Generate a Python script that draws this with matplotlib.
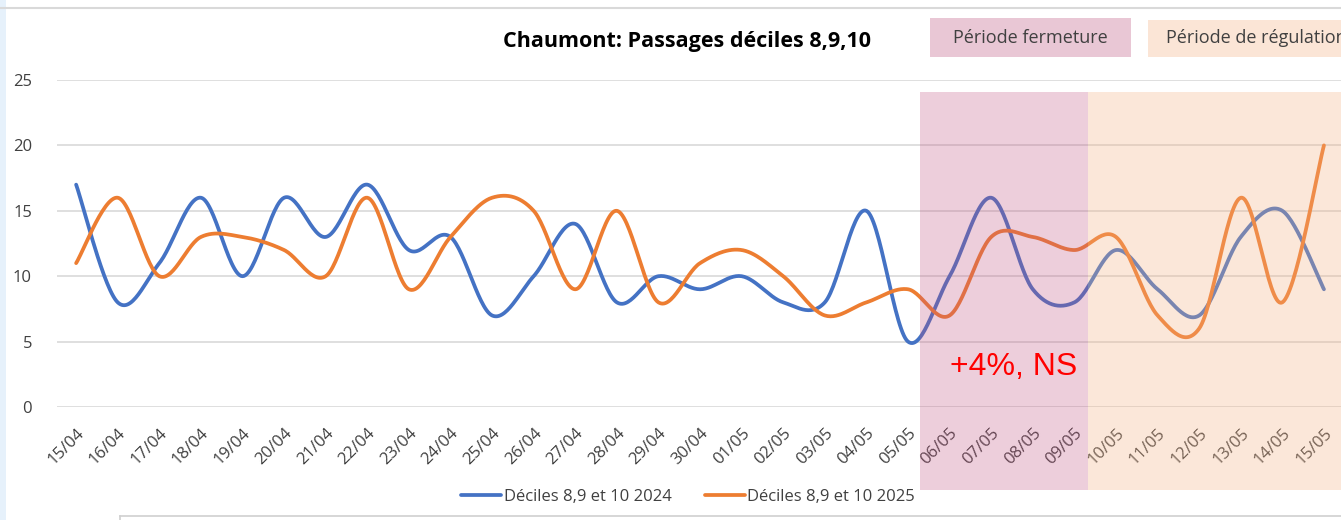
import numpy as np
import matplotlib.pyplot as plt
from matplotlib.patches import Rectangle
from matplotlib.lines import Line2D
import matplotlib.transforms as mtransforms

days = ['15/04', '16/04', '17/04', '18/04', '19/04', '20/04', '21/04', '22/04',
        '23/04', '24/04', '25/04', '26/04', '27/04', '28/04', '29/04', '30/04',
        '01/05', '02/05', '03/05', '04/05', '05/05', '06/05', '07/05', '08/05',
        '09/05', '10/05', '11/05', '12/05', '13/05', '14/05', '15/05']
deciles_2024 = [17, 8, 11, 16, 10, 16, 13, 17, 12, 13, 7, 10, 14, 8, 10, 9,
                10, 8, 8, 15, 5, 10, 16, 9, 8, 12, 9, 7, 13, 15, 9]
deciles_2025 = [11, 16, 10, 13, 13, 12, 10, 16, 9, 13, 16, 15, 9, 15, 8, 11,
                12, 10, 7, 8, 9, 7, 13, 13, 12, 13, 7, 6, 16, 8, 20]

BLUE = '#4472C4'
ORANGE = '#ED7D31'


def smooth(values, n=30):
    # Excel-like smoothed line: cubic Bezier with Catmull-Rom control points
    y = np.asarray(values, dtype=float)
    x = np.arange(len(y), dtype=float)
    xs, ys = [], []
    t = np.linspace(0, 1, n, endpoint=False)
    for i in range(len(y) - 1):
        p0 = np.array([x[i], y[i]])
        p3 = np.array([x[i + 1], y[i + 1]])
        prev = np.array([x[max(i - 1, 0)], y[max(i - 1, 0)]])
        nxt = np.array([x[min(i + 2, len(y) - 1)], y[min(i + 2, len(y) - 1)]])
        p1 = p0 + (p3 - prev) / 6
        p2 = p3 - (nxt - p0) / 6
        b = ((1 - t) ** 3)[:, None] * p0 + (3 * (1 - t) ** 2 * t)[:, None] * p1 \
            + (3 * (1 - t) * t ** 2)[:, None] * p2 + (t ** 3)[:, None] * p3
        xs.extend(b[:, 0])
        ys.extend(b[:, 1])
    xs.append(x[-1])
    ys.append(y[-1])
    return np.array(xs), np.array(ys)


W, H = 1341, 520
fig = plt.figure(figsize=(W / 100, H / 100), dpi=100)
ax = fig.add_axes([57 / W, 1 - 407 / H, 1 - 57 / W, 327 / H])

x24, y24 = smooth(deciles_2024)
x25, y25 = smooth(deciles_2025)
ax.plot(x24, y24, color=BLUE, lw=2.7, solid_capstyle='round', zorder=3,
        label='Déciles 8,9 et 10 2024')
ax.plot(x25, y25, color=ORANGE, lw=2.7, solid_capstyle='round', zorder=3,
        label='Déciles 8,9 et 10 2025')

ax.set_ylim(0, 25)
ax.set_yticks(range(0, 26, 5))
ax.set_xlim(-0.46, 30.41)
ax.set_xticks(range(len(days)))
ax.set_xticklabels(days, rotation=45, ha='right', rotation_mode='anchor',
                   fontsize=12, color='#404040', family='Open Sans')
for lbl in ax.get_yticklabels():
    lbl.set_fontsize(12)
    lbl.set_color('#404040')
    lbl.set_family('Open Sans')
ax.tick_params(axis='both', length=0)
ax.tick_params(axis='y', pad=18)
ax.tick_params(axis='x', pad=13)
ax.grid(axis='y', color='#d9d9d9', lw=1.2)
ax.set_axisbelow(True)
for s in ax.spines.values():
    s.set_visible(False)

# shaded periods (drawn over the lines, semi transparent)
trans = mtransforms.blended_transform_factory(ax.transData, ax.transAxes)
ax.add_patch(Rectangle((20.29, -0.254), 24.33 - 20.29, 1.217, transform=trans,
                       facecolor='#C0507F', alpha=0.28, lw=0, clip_on=False, zorder=4))
ax.add_patch(Rectangle((24.33, -0.254), 7, 1.217, transform=trans,
                       facecolor='#F4B183', alpha=0.3, lw=0, clip_on=False, zorder=4))

ax.text(22.55, 3.05, '+4%, NS', color='#ff0000', fontsize=23, ha='center',
        va='center', family='Liberation Sans', zorder=5)

fig.text(687 / W, 1 - 42 / H, 'Chaumont: Passages déciles 8,9,10', ha='center',
         va='center', fontsize=15.5, fontweight='bold', family='Open Sans',
         color='#000000')

# period labels at the top (the second one is cut by the right edge, as in the source)
fig.add_artist(Rectangle((930 / W, 1 - 57 / H), 201 / W, 39 / H,
                         transform=fig.transFigure, facecolor='#E9C7D5', lw=0))
fig.text(1030 / W, 1 - 38 / H, 'Période fermeture', ha='center', va='center',
         fontsize=13, color='#404040', family='Open Sans')
fig.add_artist(Rectangle((1148 / W, 1 - 57 / H), 200 / W, 37 / H,
                         transform=fig.transFigure, facecolor='#FBE5D6', lw=0))
fig.text(1166 / W, 1 - 38 / H, 'Période de régulation', ha='left', va='center',
         fontsize=13, color='#404040', family='Open Sans')

# screenshot frame bits
fig.add_artist(Line2D([0, 1], [1 - 8 / H, 1 - 8 / H], color='#d9d9d9', lw=1.5))
fig.add_artist(Rectangle((0, 0), 6 / W, 1, transform=fig.transFigure,
                         facecolor='#e6f1fb', lw=0))
fig.add_artist(Line2D([120 / W, 1], [1 - 516 / H, 1 - 516 / H], color='#d0d0d0', lw=1.2))
fig.add_artist(Line2D([120 / W, 120 / W], [0, 1 - 516 / H], color='#d0d0d0', lw=1.2))

fig.legend(loc='center', bbox_to_anchor=(688 / W, 1 - 497 / H), ncol=2,
           frameon=False, handlelength=2.4, columnspacing=2.0, handletextpad=0.15,
           prop={'family': 'Open Sans', 'size': 12})
for t in fig.legends[0].get_texts():
    t.set_color('#404040')

fig.savefig('out.png', dpi=100)
